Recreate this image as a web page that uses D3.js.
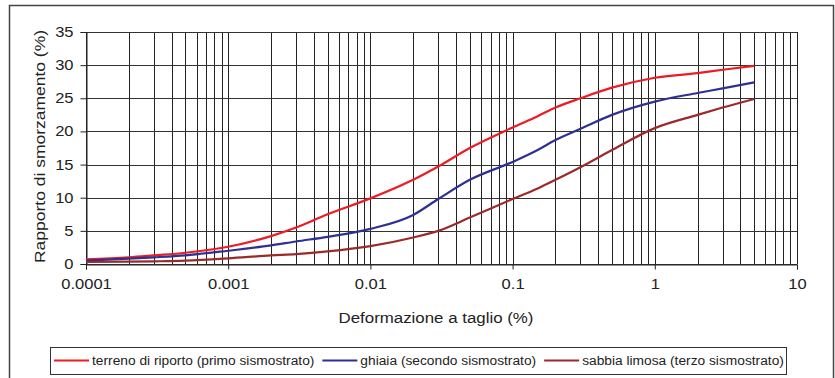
<meta charset="utf-8">
<script src="https://d3js.org/d3.v7.min.js"></script>
<style>
  body { margin: 0; background: #fff; }
  text { font-family: "Liberation Sans", Arial, sans-serif; fill: #222; }
</style>
<div id="chart"></div>
<script>

// strain values (%) shared by all three curves
var strain = [0.0001, 0.0002, 0.0003, 0.0005, 0.001, 0.002, 0.003, 0.005, 0.01, 0.02, 0.03, 0.05, 0.1, 0.15, 0.2, 0.3, 0.5, 1, 2, 3, 5];

// damping ratio (%) for each layer
var terreno = [0.7, 1.0, 1.3, 1.7, 2.6, 4.2, 5.5, 7.5, 9.9, 12.7, 14.7, 17.5, 20.6, 22.3, 23.6, 25.0, 26.6, 28.1, 28.8, 29.3, 29.9];
var ghiaia  = [0.5, 0.8, 1.0, 1.3, 2.0, 2.8, 3.4, 4.1, 5.3, 7.4, 9.8, 12.7, 15.4, 17.2, 18.7, 20.4, 22.5, 24.5, 25.8, 26.5, 27.4];
var sabbia  = [0.3, 0.35, 0.4, 0.5, 0.85, 1.3, 1.5, 1.9, 2.7, 4.0, 5.0, 7.0, 9.8, 11.4, 12.7, 14.6, 17.2, 20.5, 22.5, 23.6, 24.9];

var series = [
  {name: "terreno di riporto (primo sismostrato)", values: terreno, color: "#ed1c24"},
  {name: "ghiaia (secondo sismostrato)", values: ghiaia, color: "#2e3192"},
  {name: "sabbia limosa (terzo sismostrato)", values: sabbia, color: "#9b2b2b"}
];

var xTicks = [0.0001, 0.001, 0.01, 0.1, 1, 10];
var yTicks = [0, 5, 10, 15, 20, 25, 30, 35];

var W = 835, H = 378;
var margin = {top: 32, right: 38, bottom: 114, left: 86},
    width = W - margin.left - margin.right,
    height = H - margin.top - margin.bottom;

var svg = d3.select("#chart").append("svg")
    .attr("width", W)
    .attr("height", H);

// the source chart's text is drawn a little wider than Arial
function stretch(sel, k) {
  sel.each(function() {
    d3.select(this)
      .attr("textLength", this.getComputedTextLength() * k)
      .attr("lengthAdjust", "spacingAndGlyphs");
  });
}

// outer frame
svg.append("rect")
  .attr("x", 9.5).attr("y", 5.5)
  .attr("width", 824).attr("height", 380)
  .attr("fill", "none")
  .attr("stroke", "#444")
  .attr("stroke-width", 1.5);

var g = svg.append("g")
  .attr("transform", "translate(" + margin.left + "," + margin.top + ")");

var x = d3.scaleLog().domain([0.0001, 10]).range([0, width]);
var y = d3.scaleLinear().domain([0, 35]).range([height, 0]);

// vertical grid: every 1..9 of each decade
var minor = [];
for (var e = -4; e < 1; e++) {
  for (var k = 1; k <= 9; k++) minor.push(k * Math.pow(10, e));
}
minor.push(10);
g.append("g").selectAll("line")
  .data(minor)
  .enter().append("line")
    .attr("x1", function(d) { return Math.round(x(d)) + 0.5; })
    .attr("x2", function(d) { return Math.round(x(d)) + 0.5; })
    .attr("y1", 0).attr("y2", height)
    .attr("stroke", "#222").attr("stroke-width", 1);

// horizontal grid
g.append("g").selectAll("line")
  .data(yTicks)
  .enter().append("line")
    .attr("x1", 0).attr("x2", width)
    .attr("y1", function(d) { return Math.round(y(d)) + 0.5; })
    .attr("y2", function(d) { return Math.round(y(d)) + 0.5; })
    .attr("stroke", "#333").attr("stroke-width", 1);

// Y axis
var yAxis = g.append("g")
  .attr("transform", "translate(0.5,0)")
  .call(d3.axisLeft(y).tickValues(yTicks).tickSize(6).tickPadding(7));
yAxis.select(".domain").attr("stroke", "#222");
yAxis.selectAll("line").attr("stroke", "#222");
yAxis.selectAll("text").style("font-size", "14px").attr("fill", "#222");
stretch(yAxis.selectAll("text"), 1.18);

// X axis
var xAxis = g.append("g")
  .attr("transform", "translate(0," + (height + 0.5) + ")")
  .call(d3.axisBottom(x).tickValues(xTicks).tickFormat(function(d) { return String(+d.toFixed(4)); }).tickSize(5).tickPadding(10));
xAxis.select(".domain").attr("stroke", "#222");
xAxis.selectAll("line").attr("stroke", "#222");
xAxis.selectAll("text").style("font-size", "14px").attr("fill", "#222");
stretch(xAxis.selectAll("text"), 1.18);

// axis titles
svg.append("text")
  .attr("x", 436).attr("y", 323)
  .style("text-anchor", "middle")
  .style("font-size", "14px")
  .attr("textLength", 195)
  .attr("lengthAdjust", "spacingAndGlyphs")
  .text("Deformazione a taglio (%)");

svg.append("text")
  .attr("transform", "rotate(-90)")
  .attr("x", -146.5).attr("y", 45)
  .style("text-anchor", "middle")
  .style("font-size", "14.5px")
  .attr("textLength", 233)
  .attr("lengthAdjust", "spacingAndGlyphs")
  .text("Rapporto di smorzamento (%)");

// curves
var line = d3.line()
  .x(function(d) { return x(d[0]); })
  .y(function(d) { return y(d[1]); })
  .curve(d3.curveMonotoneX);

series.forEach(function(s) {
  g.append("path")
    .datum(strain.map(function(v, i) { return [v, s.values[i]]; }))
    .attr("fill", "none")
    .attr("stroke", s.color)
    .attr("stroke-width", 2.2)
    .attr("d", line);
});

// legend
svg.append("rect")
  .attr("x", 50.5).attr("y", 347.5)
  .attr("width", 736).attr("height", 27)
  .attr("fill", "#fff")
  .attr("stroke", "#333");

var lx = 54;
series.forEach(function(s) {
  svg.append("line")
    .attr("x1", lx).attr("x2", lx + 35)
    .attr("y1", 360.5).attr("y2", 360.5)
    .attr("stroke", s.color).attr("stroke-width", 2);
  var t = svg.append("text")
    .attr("x", lx + 38).attr("y", 365)
    .style("font-size", "12.5px")
    .text(s.name);
  stretch(t, 1.1);
  lx += 38 + t.node().getComputedTextLength() + 8;
});

</script>
